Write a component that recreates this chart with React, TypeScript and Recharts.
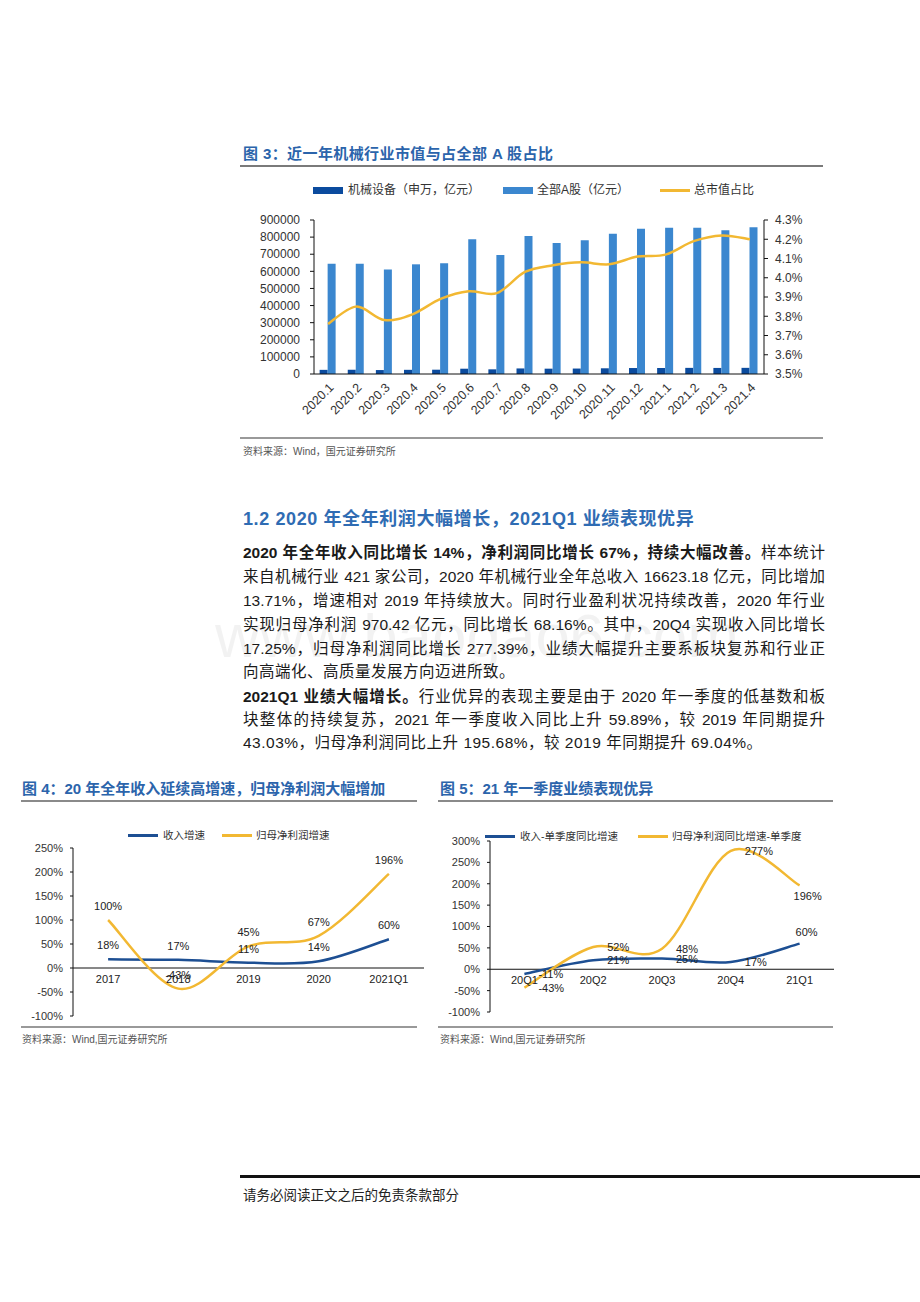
import React from 'react';
import { ComposedChart, Bar, Line, XAxis, YAxis, Legend, ReferenceLine, LabelList } from 'recharts';

// ---------- Figure 3 data ----------
const months = ['2020.1', '2020.2', '2020.3', '2020.4', '2020.5', '2020.6', '2020.7', '2020.8', '2020.9', '2020.10', '2020.11', '2020.12', '2021.1', '2021.2', '2021.3', '2021.4'];
const machineryCap = [24250, 24830, 23060, 24420, 25170, 30930, 27280, 32520, 31140, 31870, 33370, 34890, 35230, 35830, 35450, 35990];
const allACap = [645000, 645000, 610000, 641000, 647000, 787000, 696000, 807000, 766000, 781000, 820000, 849000, 855000, 855000, 840000, 857000];
const capShare = [3.76, 3.85, 3.78, 3.81, 3.89, 3.93, 3.92, 4.03, 4.065, 4.08, 4.07, 4.11, 4.12, 4.19, 4.22, 4.2];
const capTicks = [0, 100000, 200000, 300000, 400000, 500000, 600000, 700000, 800000, 900000];
const shareTicks = [3.5, 3.6, 3.7, 3.8, 3.9, 4.0, 4.1, 4.2, 4.3];
const fig3Names = ['机械设备（申万，亿元）', '全部A股（亿元）', '总市值占比'];

// ---------- Figure 4 data ----------
const years = ['2017', '2018', '2019', '2020', '2021Q1'];
const revenueGrowthY = [18, 17, 11, 14, 60];
const profitGrowthY = [100, -43, 45, 67, 196];
const pctTicks4 = [-100, -50, 0, 50, 100, 150, 200, 250];
const fig4Names = ['收入增速', '归母净利润增速'];

// ---------- Figure 5 data ----------
const quarters = ['20Q1', '20Q2', '20Q3', '20Q4', '21Q1'];
const revenueGrowthQ = [-11, 21, 25, 17, 60];
const profitGrowthQ = [-43, 52, 48, 277, 196];
const pctTicks5 = [-100, -50, 0, 50, 100, 150, 200, 250, 300];
const fig5Names = ['收入-单季度同比增速', '归母净利润同比增速-单季度'];

// label placement styles for figure 5
const q5RevPos = ['right', 'right', 'right', 'right', 'top'];
const q5ProfitPos = ['right', 'right', 'right', 'right', 'bottom'];

const fig3Data = months.map((m, i) => ({ month: m, mach: machineryCap[i], all: allACap[i], share: capShare[i] }));
const fig4Data = years.map((c, i) => ({ cat: c, rev: revenueGrowthY[i], profit: profitGrowthY[i] }));
const fig5Data = quarters.map((c, i) => ({ cat: c, rev: revenueGrowthQ[i], profit: profitGrowthQ[i] }));

const C_DARK = '#0b4b9e';
const C_LIGHT = '#3b87cf';
const C_GOLD = '#f2b832';
const C_NAVY = '#1d4f93';
const TITLE_BLUE = '#2b64ab';

const LATIN = '"Liberation Sans", Arial, "Noto Sans CJK SC", sans-serif';

// Excel-like smooth curve (Catmull-Rom through points)
const excelCurve: any = (context: any) => {
  let pts: number[][] = [];
  return {
    areaStart() {},
    areaEnd() {},
    lineStart() { pts = []; },
    lineEnd() {
      const n = pts.length;
      if (!n) return;
      context.moveTo(pts[0][0], pts[0][1]);
      for (let i = 0; i < n - 1; i++) {
        const p0 = pts[i - 1] || pts[i];
        const p1 = pts[i];
        const p2 = pts[i + 1];
        const p3 = pts[i + 2] || p2;
        context.bezierCurveTo(
          p1[0] + (p2[0] - p0[0]) / 6, p1[1] + (p2[1] - p0[1]) / 6,
          p2[0] - (p3[0] - p1[0]) / 6, p2[1] - (p3[1] - p1[1]) / 6,
          p2[0], p2[1]
        );
      }
    },
    point(x: number, y: number) { pts.push([+x, +y]); },
  };
};

const T = ({ x, cy, size, color = '#111', bold = false, children, lh = 1.4, family = LATIN, extra = {} }: any) => {
  const h = size * lh;
  return (
    <div lang="zh-CN" style={{ position: 'absolute', left: x, top: cy - h / 2, fontSize: size, lineHeight: `${h}px`, color, fontWeight: bold ? 700 : 400, fontFamily: family, whiteSpace: 'nowrap', ...extra }}>
      {children}
    </div>
  );
};

const Rule = ({ x, y, w, h = 2, color = '#8a8a8a' }: any) => (
  <div style={{ position: 'absolute', left: x, top: y, width: w, height: h, background: color }} />
);

const BodyLine = ({ cy, justify = true, children }: any) => (
  <div lang="zh-CN" style={{ position: 'absolute', left: 243, top: cy - 11, width: 582, height: 22, fontSize: 15.5, lineHeight: '22px', color: '#1a1a1a', fontFamily: LATIN, letterSpacing: justify ? 0 : 0.5, textAlign: justify ? 'justify' : 'left', textAlignLast: justify ? 'justify' : 'left' } as any}>
    {children}
  </div>
);

const legendText = { fontFamily: LATIN, color: '#333' };

const Fig3Legend = () => (
  <div style={{ position: 'relative', height: 16, width: 585 }}>
    <div style={{ position: 'absolute', left: 73, top: 5, width: 30, height: 7, background: C_DARK }} />
    <div style={{ position: 'absolute', left: 108, top: 0, fontSize: 12, lineHeight: '16px', ...legendText }}>{fig3Names[0]}</div>
    <div style={{ position: 'absolute', left: 263, top: 5, width: 30, height: 7, background: C_LIGHT }} />
    <div style={{ position: 'absolute', left: 297, top: 0, fontSize: 12, lineHeight: '16px', ...legendText }}>{fig3Names[1]}</div>
    <div style={{ position: 'absolute', left: 420, top: 7, width: 30, height: 2.5, background: C_GOLD }} />
    <div style={{ position: 'absolute', left: 454, top: 0, fontSize: 12, lineHeight: '16px', ...legendText }}>{fig3Names[2]}</div>
  </div>
);

const LineLegend = ({ names, pos, width }: any) => (
  <div style={{ position: 'relative', height: 16, width }}>
    <div style={{ position: 'absolute', left: pos[0], top: 6.5, width: 30, height: 3, background: C_NAVY }} />
    <div style={{ position: 'absolute', left: pos[0] + 35, top: 0, fontSize: 10.5, lineHeight: '16px', ...legendText }}>{names[0]}</div>
    <div style={{ position: 'absolute', left: pos[1], top: 6.5, width: 30, height: 3, background: C_GOLD }} />
    <div style={{ position: 'absolute', left: pos[1] + 34, top: 0, fontSize: 10.5, lineHeight: '16px', ...legendText }}>{names[1]}</div>
  </div>
);

const makeQLabel = (positions: string[]) => (props: any) => {
  const vb = props.viewBox || {};
  const x = vb.x ?? props.x;
  const y = vb.y ?? props.y;
  const pos = positions[props.index];
  let tx = x;
  let ty = y;
  let anchor = 'middle';
  if (pos === 'right') { tx = x + 14; anchor = 'start'; }
  if (pos === 'top') { tx = x + 7; ty = y - 12; }
  if (pos === 'bottom') { tx = x + 8; ty = y + 11; }
  return (
    <text x={tx} y={ty} textAnchor={anchor} dominantBaseline="central" fontSize={11} fill="#222" fontFamily={LATIN}>
      {props.value}%
    </text>
  );
};

const pct = (v: any) => `${v}%`;

export default function App() {
  return (
    <div style={{ position: 'absolute', left: 0, top: 0, width: 920, height: 1302, background: '#fff', overflow: 'hidden', fontFamily: LATIN }}>
      {/* ---------- Figure 3 ---------- */}
      <T x={243} cy={153} size={15} bold color={TITLE_BLUE} extra={{ letterSpacing: 0.4 }}>图 3：近一年机械行业市值与占全部 A 股占比</T>
      <Rule x={240} y={165} w={583} h={2} color="#7a7a7a" />
      <div style={{ position: 'absolute', left: 240, top: 178 }}>
        <ComposedChart width={585} height={255} data={fig3Data} margin={{ top: 42, right: 0, bottom: 0, left: 0 }} barCategoryGap="20%" barGap={0}>
          <XAxis dataKey="month" interval={0} height={59} angle={-45} textAnchor="end" tickSize={3} tickMargin={5} tickLine={false} axisLine={{ stroke: '#111' }} tick={{ fontSize: 12.5, fill: '#333', fontFamily: LATIN }} />
          <YAxis yAxisId="l" width={74} domain={[0, 900000]} ticks={capTicks} interval={0} tickSize={4} tickMargin={10} axisLine={{ stroke: '#111' }} tickLine={{ stroke: '#111' }} tick={{ fontSize: 12, fill: '#333', fontFamily: LATIN }} />
          <YAxis yAxisId="r" orientation="right" width={61} domain={[3.5, 4.3]} ticks={shareTicks} interval={0} tickFormatter={(v: number) => `${v.toFixed(1)}%`} tickSize={4} tickMargin={7} axisLine={{ stroke: '#111' }} tickLine={{ stroke: '#111' }} tick={{ fontSize: 12, fill: '#333', fontFamily: LATIN }} />
          <Bar yAxisId="l" dataKey="mach" fill={C_DARK} isAnimationActive={false} />
          <Bar yAxisId="l" dataKey="all" fill={C_LIGHT} isAnimationActive={false} />
          <Line yAxisId="r" dataKey="share" type={excelCurve} stroke={C_GOLD} strokeWidth={2.5} dot={false} activeDot={false} isAnimationActive={false} />
          <Legend layout="vertical" verticalAlign="middle" align="center" wrapperStyle={{ top: 4, left: 0, width: 585 }} content={() => <Fig3Legend />} />
        </ComposedChart>
      </div>
      <Rule x={240} y={437} w={583} h={2} color="#999" />
      <T x={243} cy={452} size={10} color="#555">资料来源：Wind，国元证券研究所</T>

      {/* ---------- Section text ---------- */}
      <T x={215} cy={636} size={62} color="rgba(0,0,0,0.05)">www.baogao6.com</T>
      <T x={243} cy={520} size={18} bold color="#2f6cb3" extra={{ letterSpacing: 0.6 }}>1.2 2020 年全年利润大幅增长，2021Q1 业绩表现优异</T>
      <BodyLine cy={553}><b>2020 年全年收入同比增长 14%，净利润同比增长 67%，持续大幅改善。</b>样本统计</BodyLine>
      <BodyLine cy={577}>来自机械行业 421 家公司，2020 年机械行业全年总收入 16623.18 亿元，同比增加</BodyLine>
      <BodyLine cy={601}>13.71%，增速相对 2019 年持续放大。同时行业盈利状况持续改善，2020 年行业</BodyLine>
      <BodyLine cy={625}>实现归母净利润 970.42 亿元，同比增长 68.16%。其中，20Q4 实现收入同比增长</BodyLine>
      <BodyLine cy={649}>17.25%，归母净利润同比增长 277.39%，业绩大幅提升主要系板块复苏和行业正</BodyLine>
      <BodyLine cy={672} justify={false}>向高端化、高质量发展方向迈进所致。</BodyLine>
      <BodyLine cy={697}><b>2021Q1 业绩大幅增长。</b>行业优异的表现主要是由于 2020 年一季度的低基数和板</BodyLine>
      <BodyLine cy={720}>块整体的持续复苏，2021 年一季度收入同比上升 59.89%，较 2019 年同期提升</BodyLine>
      <BodyLine cy={743} justify={false}>43.03%，归母净利润同比上升 195.68%，较 2019 年同期提升 69.04%。</BodyLine>

      {/* ---------- Figure 4 ---------- */}
      <T x={22} cy={788} size={15} bold color={TITLE_BLUE}>图 4：20 年全年收入延续高增速，归母净利润大幅增加</T>
      <Rule x={21} y={800} w={396} h={2} color="#8a8a8a" />
      <div style={{ position: 'absolute', left: 20, top: 815 }}>
        <ComposedChart width={405} height={215} data={fig4Data} margin={{ top: 33, right: 1, bottom: 14, left: 0 }}>
          <XAxis dataKey="cat" scale="band" hide />
          <YAxis width={53} domain={[-100, 250]} ticks={pctTicks4} interval={0} tickFormatter={pct} tickSize={3} tickMargin={7} axisLine={{ stroke: '#111' }} tickLine={{ stroke: '#111' }} tick={{ fontSize: 11, fill: '#333', fontFamily: LATIN }} />
          <ReferenceLine y={0} stroke="#111" strokeWidth={1} />
          <Line dataKey={() => 0} stroke="none" dot={false} activeDot={false} isAnimationActive={false} legendType="none">
            <LabelList dataKey="cat" position="bottom" offset={7} fill="#222" fontSize={11} fontFamily={LATIN} />
          </Line>
          <Line dataKey="rev" type={excelCurve} stroke={C_NAVY} strokeWidth={2.5} dot={false} activeDot={false} isAnimationActive={false}>
            <LabelList dataKey="rev" position="top" offset={10} formatter={pct} fill="#222" fontSize={11} fontFamily={LATIN} />
          </Line>
          <Line dataKey="profit" type={excelCurve} stroke={C_GOLD} strokeWidth={2.5} dot={false} activeDot={false} isAnimationActive={false}>
            <LabelList dataKey="profit" position="top" offset={10} formatter={pct} fill="#222" fontSize={11} fontFamily={LATIN} />
          </Line>
          <Legend layout="vertical" verticalAlign="middle" align="center" wrapperStyle={{ top: 12, left: 0, width: 405 }} content={() => <LineLegend names={fig4Names} pos={[108, 202]} width={405} />} />
        </ComposedChart>
      </div>
      <Rule x={21} y={1026} w={396} h={2} color="#999" />
      <T x={22} cy={1040} size={10} color="#555">资料来源：Wind,国元证券研究所</T>

      {/* ---------- Figure 5 ---------- */}
      <T x={440} cy={788} size={15} bold color={TITLE_BLUE}>图 5：21 年一季度业绩表现优异</T>
      <Rule x={438} y={800} w={395} h={2} color="#8a8a8a" />
      <div style={{ position: 'absolute', left: 438, top: 815 }}>
        <ComposedChart width={400} height={215} data={fig5Data} margin={{ top: 26, right: 4, bottom: 18, left: 0 }}>
          <XAxis dataKey="cat" scale="band" hide />
          <YAxis width={52} domain={[-100, 300]} ticks={pctTicks5} interval={0} tickFormatter={pct} tickSize={3} tickMargin={7} axisLine={{ stroke: '#111' }} tickLine={{ stroke: '#111' }} tick={{ fontSize: 11, fill: '#333', fontFamily: LATIN }} />
          <ReferenceLine y={0} stroke="#111" strokeWidth={1} />
          <Line dataKey={() => 0} stroke="none" dot={false} activeDot={false} isAnimationActive={false} legendType="none">
            <LabelList dataKey="cat" position="bottom" offset={7} fill="#222" fontSize={11} fontFamily={LATIN} />
          </Line>
          <Line dataKey="rev" type={excelCurve} stroke={C_NAVY} strokeWidth={2.5} dot={false} activeDot={false} isAnimationActive={false}>
            <LabelList dataKey="rev" content={makeQLabel(q5RevPos)} />
          </Line>
          <Line dataKey="profit" type={excelCurve} stroke={C_GOLD} strokeWidth={2.5} dot={false} activeDot={false} isAnimationActive={false}>
            <LabelList dataKey="profit" content={makeQLabel(q5ProfitPos)} />
          </Line>
          <Legend layout="vertical" verticalAlign="middle" align="center" wrapperStyle={{ top: 13, left: 0, width: 400 }} content={() => <LineLegend names={fig5Names} pos={[47, 200]} width={400} />} />
        </ComposedChart>
      </div>
      <Rule x={438} y={1026} w={395} h={2} color="#999" />
      <T x={440} cy={1040} size={10} color="#555">资料来源：Wind,国元证券研究所</T>

      {/* ---------- Footer ---------- */}
      <Rule x={240} y={1175} w={680} h={2.5} color="#111" />
      <T x={243} cy={1196} size={13.5} color="#222">请务必阅读正文之后的免责条款部分</T>
    </div>
  );
}
